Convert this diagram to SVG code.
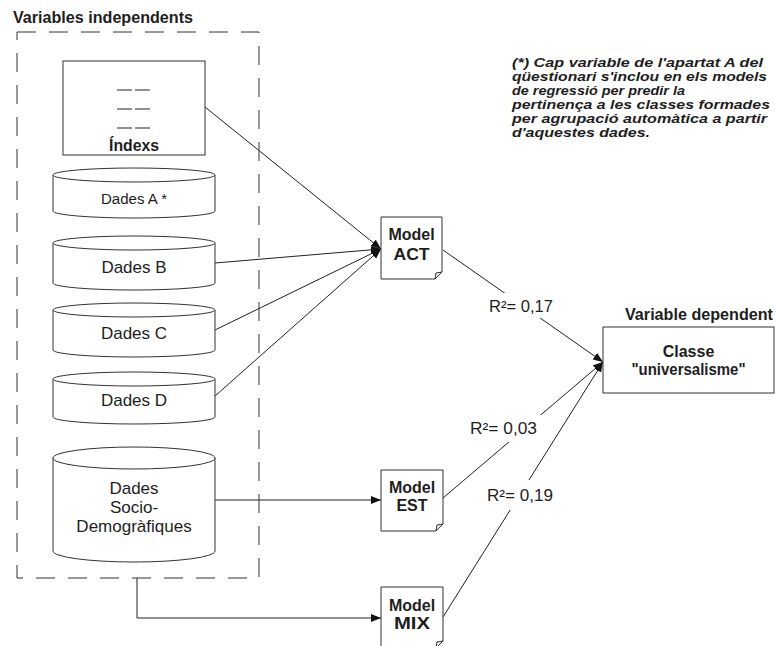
<svg xmlns="http://www.w3.org/2000/svg" width="775" height="646" viewBox="0 0 775 646">
<defs>
<style>
text{font-family:"Liberation Sans",Arial,sans-serif;fill:#1e1e1e}
.b{font-weight:bold;font-size:16px}
.d{font-size:17px}
.r{font-size:16.5px}
.n{font-weight:bold;font-style:italic;font-size:13.5px}
.sh{fill:#fff;stroke:#333;stroke-width:1}
.c{fill:none;stroke:#222;stroke-width:1}
.fold{fill:#eee;stroke:#333;stroke-width:1}
.lbl{fill:#fff;stroke:none}
</style>
<marker id="ah" markerUnits="userSpaceOnUse" markerWidth="11" markerHeight="9" refX="10" refY="4" orient="auto" viewBox="0 0 11 9">
<path d="M0,0 L10,4 L0,8 Z" fill="#111"/>
</marker>
</defs>
<rect width="775" height="646" fill="#fff"/>

<g id="group-independents">
<text class="b" x="13" y="23" textLength="180" lengthAdjust="spacingAndGlyphs">Variables independents</text>
<rect x="17" y="32" width="242" height="546" fill="none" stroke="#333" stroke-width="1" stroke-dasharray="19,13"/>
</g>

<g id="connectors">
<line class="c" x1="205" y1="107" x2="381" y2="249" marker-end="url(#ah)"/>
<line class="c" x1="215" y1="263" x2="381" y2="249" marker-end="url(#ah)"/>
<line class="c" x1="215" y1="330" x2="381" y2="249" marker-end="url(#ah)"/>
<line class="c" x1="215" y1="396" x2="381" y2="249" marker-end="url(#ah)"/>
<line class="c" x1="215" y1="500" x2="381" y2="500" marker-end="url(#ah)"/>
<polyline class="c" points="137,578 137,618 381,618" marker-end="url(#ah)"/>
<line class="c" x1="443" y1="250" x2="603" y2="362" marker-end="url(#ah)"/>
<line class="c" x1="443" y1="498" x2="603" y2="362" marker-end="url(#ah)"/>
<line class="c" x1="443" y1="617" x2="603" y2="362" marker-end="url(#ah)"/>
<rect class="lbl" x="486" y="293" width="70" height="25"/>
<text class="r" x="489" y="312" textLength="64" lengthAdjust="spacingAndGlyphs">R²= 0,17</text>
<rect class="lbl" x="467" y="415" width="74" height="27"/>
<text class="r" x="470" y="434" textLength="67" lengthAdjust="spacingAndGlyphs">R²= 0,03</text>
<rect class="lbl" x="484" y="480" width="72" height="30"/>
<text class="r" x="487" y="501" textLength="66" lengthAdjust="spacingAndGlyphs">R²= 0,19</text>
</g>

<g id="indexs">
<rect class="sh" x="63" y="61" width="142" height="94"/>
<g stroke="#222" stroke-width="1">
<line x1="117" y1="90" x2="132" y2="90"/><line x1="135" y1="90" x2="150" y2="90"/>
<line x1="117" y1="109" x2="132" y2="109"/><line x1="135" y1="109" x2="150" y2="109"/>
<line x1="117" y1="128" x2="132" y2="128"/><line x1="135" y1="128" x2="150" y2="128"/>
</g>
<text class="b" x="134" y="151" text-anchor="middle" textLength="50" lengthAdjust="spacingAndGlyphs">Índexs</text>
</g>

<g id="dades-a">
<path class="sh" d="M53,175 V211 A81,7 0 0 0 215,211 V175"/>
<ellipse class="sh" cx="134" cy="175" rx="81" ry="7"/>
<text class="d" x="134" y="204" text-anchor="middle" style="font-size:15.5px" textLength="66" lengthAdjust="spacingAndGlyphs">Dades A *</text>
</g>

<g id="dades-b">
<path class="sh" d="M53,243 V283 A81,7 0 0 0 215,283 V243"/>
<ellipse class="sh" cx="134" cy="243" rx="81" ry="7"/>
<text class="d" x="134" y="273" text-anchor="middle">Dades B</text>
</g>

<g id="dades-c">
<path class="sh" d="M53,310 V350 A81,7 0 0 0 215,350 V310"/>
<ellipse class="sh" cx="134" cy="310" rx="81" ry="7"/>
<text class="d" x="134" y="339" text-anchor="middle">Dades C</text>
</g>

<g id="dades-d">
<path class="sh" d="M53,379 V417 A81,7 0 0 0 215,417 V379"/>
<ellipse class="sh" cx="134" cy="379" rx="81" ry="7"/>
<text class="d" x="134" y="406" text-anchor="middle">Dades D</text>
</g>

<g id="dades-socio">
<path class="sh" d="M53,458 V551 A81,11 0 0 0 215,551 V458"/>
<ellipse class="sh" cx="134" cy="458" rx="81" ry="11"/>
<text class="d" x="134" y="494" text-anchor="middle">Dades</text>
<text class="d" x="134" y="513" text-anchor="middle">Socio-</text>
<text class="d" x="134" y="532" text-anchor="middle">Demogràfiques</text>
</g>

<g id="model-act">
<path class="sh" d="M381,217 H442 V272 L435,279 H381 Z"/>
<path class="fold" d="M435,279 L436,273 L442,272 Z"/>
<text class="b" x="411.5" y="240" text-anchor="middle">Model</text>
<text class="b" x="411.5" y="260" text-anchor="middle" textLength="36" lengthAdjust="spacingAndGlyphs">ACT</text>
</g>

<g id="model-est">
<path class="sh" d="M381,470 H443 V524 L436,531 H381 Z"/>
<path class="fold" d="M436,531 L437,525 L443,524 Z"/>
<text class="b" x="412" y="493" text-anchor="middle">Model</text>
<text class="b" x="412" y="511" text-anchor="middle">EST</text>
</g>

<g id="model-mix">
<path class="sh" d="M381,587 H443 V641 L436,648 H381 Z"/>
<path class="fold" d="M436,648 L437,642 L443,641 Z"/>
<text class="b" x="412" y="611" text-anchor="middle">Model</text>
<text class="b" x="412" y="629" text-anchor="middle" textLength="36" lengthAdjust="spacingAndGlyphs">MIX</text>
</g>

<g id="classe">
<text class="b" x="625" y="320" textLength="148" lengthAdjust="spacingAndGlyphs">Variable dependent</text>
<rect class="sh" x="603" y="327" width="171" height="66"/>
<text class="b" x="688.5" y="357" text-anchor="middle">Classe</text>
<text class="b" x="688.5" y="375" text-anchor="middle" textLength="114" lengthAdjust="spacingAndGlyphs">"universalisme"</text>
</g>

<g id="nota">
<text class="n" x="512" y="67" textLength="251" lengthAdjust="spacingAndGlyphs">(*) Cap variable de l'apartat A del</text>
<text class="n" x="512" y="81" textLength="255" lengthAdjust="spacingAndGlyphs">qüestionari s'inclou en els models</text>
<text class="n" x="512" y="95" textLength="173" lengthAdjust="spacingAndGlyphs">de regressió per predir la</text>
<text class="n" x="512" y="109" textLength="258" lengthAdjust="spacingAndGlyphs">pertinença a les classes formades</text>
<text class="n" x="512" y="123" textLength="255" lengthAdjust="spacingAndGlyphs">per agrupació automàtica a partir</text>
<text class="n" x="512" y="137" textLength="138" lengthAdjust="spacingAndGlyphs">d'aquestes dades.</text>
</g>
</svg>
